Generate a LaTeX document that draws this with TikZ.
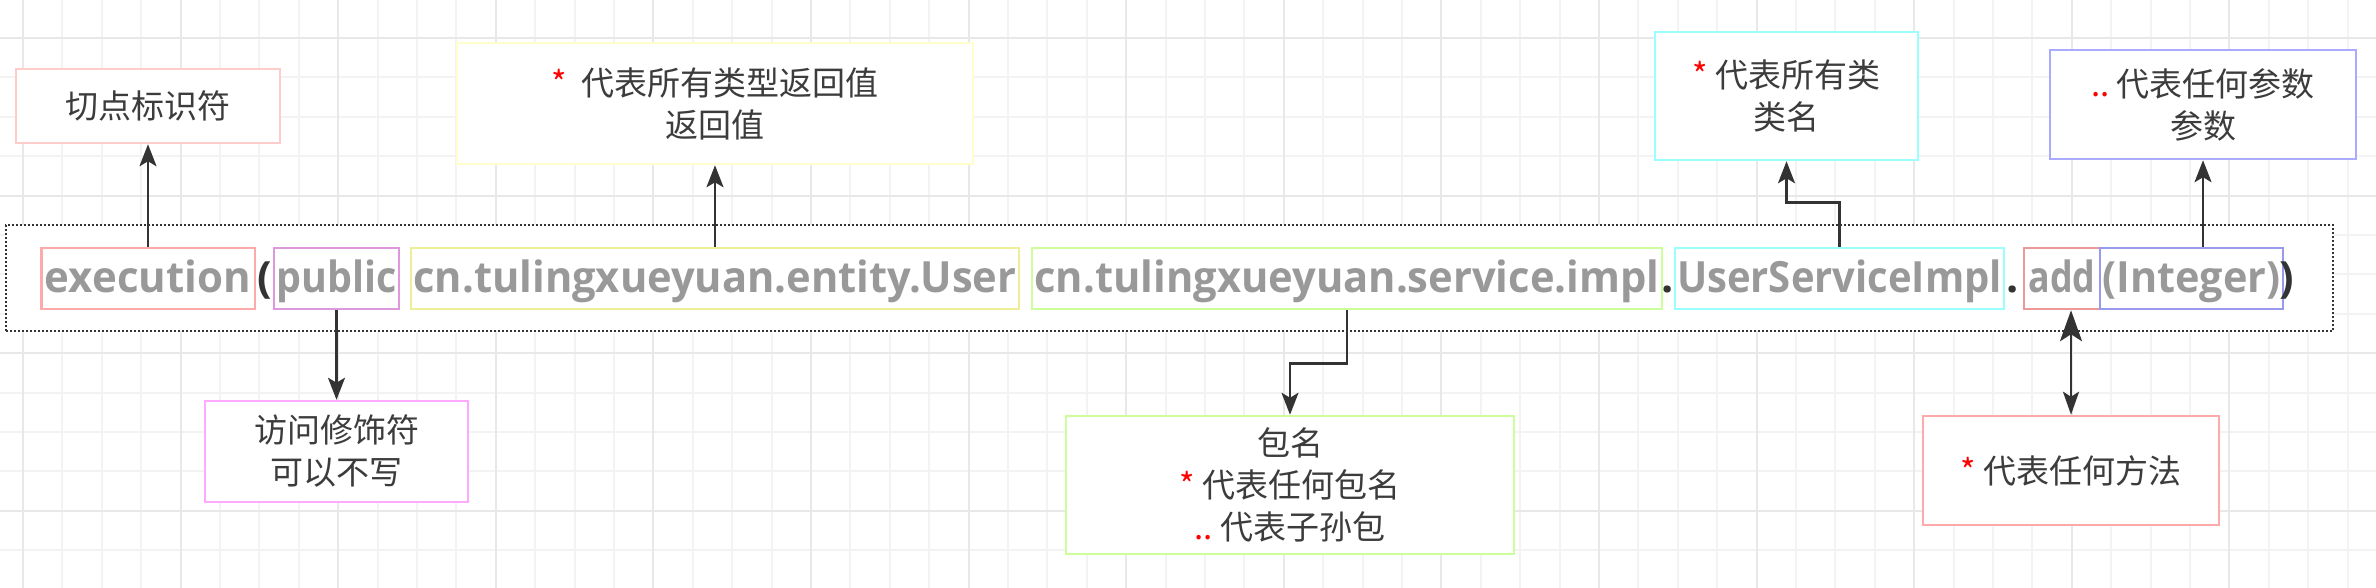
\documentclass[tikz,border=0pt]{standalone}
\usepackage{fontspec}
\usepackage{graphicx}
\usetikzlibrary{arrows.meta}
\newfontfamily\cjk{Noto Sans CJK SC}
\newfontfamily\rowfont{Open Sans}
\definecolor{txtgray}{HTML}{999999}
\definecolor{dark}{HTML}{333333}
\definecolor{notetxt}{HTML}{3C3C3C}
\definecolor{gminor}{HTML}{F3F3F3}
\definecolor{gmajor}{HTML}{E8E8E8}
\definecolor{cExec}{HTML}{FFAAAA}
\definecolor{cPub}{HTML}{DD99DD}
\definecolor{cEnt}{HTML}{EEEE99}
\definecolor{cSvc}{HTML}{CCFF99}
\definecolor{cUsi}{HTML}{99FFFF}
\definecolor{cAdd}{HTML}{EE9999}
\definecolor{cInt}{HTML}{9999EE}
\definecolor{nCut}{HTML}{FFCCCC}
\definecolor{nRet}{HTML}{FFFFCC}
\definecolor{nCls}{HTML}{99FFFF}
\definecolor{nPar}{HTML}{AAAAFF}
\definecolor{nMod}{HTML}{FFAAFF}
\definecolor{nPkg}{HTML}{CCFF99}
\definecolor{nMeth}{HTML}{FFAAAA}
\newcommand\fitx[2]{\resizebox{#1pt}{\height}{#2}}
\newcommand\rs[1]{\textcolor{red}{#1}}
\begin{document}
\begin{tikzpicture}[x=1pt,y=-1pt,
  gridminor/.style={draw=gminor, line width=2pt},
  gridmajor/.style={draw=gmajor, line width=2pt},
  exprbox/.style={draw=dark, line width=2pt, dash pattern=on 2pt off 2pt, fill=white, inner sep=0pt},
  rowbox/.style={draw, line width=2.5pt, inner sep=0pt, minimum height=61pt,
    text height=27pt, text depth=0pt, text=txtgray,
    font=\rowfont\bfseries\fontsize{43}{50}\selectfont},
  sepchar/.style={inner sep=0pt, anchor=base, text=dark,
    font=\rowfont\bfseries\fontsize{43}{50}\selectfont},
  note/.style={draw, line width=2.5pt, fill=white, inner sep=0pt, align=center,
    text=notetxt, font=\cjk\fontsize{33}{42}\selectfont},
  arr/.style={draw=dark, line width=2.5pt, -{Stealth[length=22pt,width=17pt,inset=5pt]}},
  darr/.style={draw=dark, line width=2.5pt,
    {Stealth[length=31pt,width=22pt,inset=7pt]}-{Stealth[length=23pt,width=16pt,inset=5pt]}}
]
\useasboundingbox (0,0) rectangle (2376,588);
\fill[white] (0,0) rectangle (2376,588);
% grid
\foreach \k in {0,...,59} {
  \pgfmathsetmacro\gx{23+39.4*\k}
  \draw[gridminor] (\gx,0) -- (\gx,588);
}
\foreach \k in {0,...,13} {
  \pgfmathsetmacro\gy{38+39.4*\k}
  \draw[gridminor] (0,\gy) -- (2376,\gy);
}
\foreach \k in {0,4,...,56} {
  \pgfmathsetmacro\gx{23+39.4*\k}
  \draw[gridmajor] (\gx,0) -- (\gx,588);
}
\foreach \k in {0,4,8,12} {
  \pgfmathsetmacro\gy{38+39.4*\k}
  \draw[gridmajor] (0,\gy) -- (2376,\gy);
}
% expression frame
\node[exprbox, minimum width=2327pt, minimum height=106pt] (expr) at (1169.5,278) {};
% row boxes
\node[rowbox, draw=cExec, minimum width=213.5pt] (exec) at (148,278.5) {\fitx{206}{execution}};
\node[rowbox, draw=cPub, minimum width=125pt] (pub) at (336.5,278.5) {\fitx{120}{public}};
\node[rowbox, draw=cEnt, minimum width=608pt] (ent) at (715,278.5) {\fitx{603}{cn.tulingxueyuan.entity.User}};
\node[rowbox, draw=cSvc, minimum width=630pt] (svc) at (1347,278.5) {\fitx{625}{cn.tulingxueyuan.service.impl}};
\node[rowbox, draw=cUsi, minimum width=329pt] (usi) at (1839.5,278.5) {\fitx{325}{UserServiceImpl}};
\node[rowbox, draw=cAdd, minimum width=76pt] (add) at (2062,278.5) {\fitx{67}{add}};
\node[rowbox, draw=cInt, minimum width=183pt] (intg) at (2191.5,278.5) {\fitx{178}{(Integer)}};
% separators
\node[sepchar] (s1) at (265,292) {(};
\node[sepchar] (s2) at (1668,292) {.};
\node[sepchar] (s3) at (2013,292) {.};
\node[sepchar] (s4) at (2287,292) {)};
% notes
\node[note, draw=nCut, minimum width=264pt, minimum height=74pt] (cut) at (148,106) {切点标识符};
\node[note, draw=nRet, minimum width=516pt, minimum height=121pt] (ret) at (715,103.5) {\rs{*}~~代表所有类型返回值\\返回值};
\node[note, draw=nCls, minimum width=263pt, minimum height=128pt] (cls) at (1786.5,96) {\rs{*}~代表所有类\\类名};
\node[note, draw=nPar, minimum width=306pt, minimum height=109pt] (par) at (2203,104.5) {\rs{..}~代表任何参数\\参数};
\node[note, draw=nMod, minimum width=263pt, minimum height=101pt] (mod) at (336.5,451.5) {访问修饰符\\可以不写};
\node[note, draw=nPkg, minimum width=448pt, minimum height=138pt] (pkg) at (1290,485) {包名\\\rs{*}~代表任何包名\\\rs{..}~代表子孙包};
\node[note, draw=nMeth, minimum width=296pt, minimum height=109pt] (meth) at (2071,470.5) {\rs{*}~代表任何方法};
% connectors
\draw[arr] (exec.north) -- (cut.south);
\draw[arr] (ent.north) -- (ret.south);
\draw[arr] (usi.north) -- ++(0,-44) -| (cls.south);
\draw[arr] (intg.north -| par.south) -- (par.south);
\draw[arr] (pub.south) -- (mod.north);
\draw[arr] (svc.south) -- ++(0,53) -| (pkg.north);
\draw[darr] (add.south -| meth.north) -- (meth.north);
\end{tikzpicture}
\end{document}
